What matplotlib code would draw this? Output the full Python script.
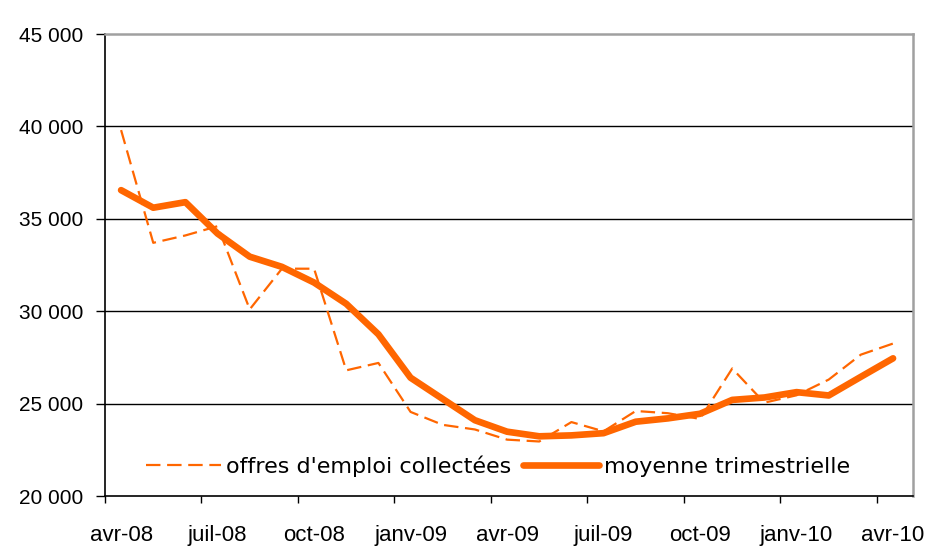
import matplotlib.pyplot as plt
import numpy as np

# === DATA ===
months = ["avr-08", "mai-08", "juin-08", "juil-08", "août-08", "sept-08", "oct-08", "nov-08", "déc-08",
          "janv-09", "févr-09", "mars-09", "avr-09", "mai-09", "juin-09", "juil-09", "août-09", "sept-09",
          "oct-09", "nov-09", "déc-09", "janv-10", "févr-10", "mars-10", "avr-10"]
offres = [39800, 33700, 34100, 34600, 30100, 32300, 32300, 26800, 27200,
          24550, 23850, 23600, 23050, 22950, 24000, 23500, 24600, 24480,
          24170, 26900, 25050, 25450, 26300, 27650, 28250]
moyenne = [36550, 35600, 35900, 34200, 32950, 32400, 31550, 30400, 28750,
           26400, 25250, 24100, 23480, 23230, 23280, 23400, 24020, 24200,
           24450, 25200, 25330, 25620, 25440, 26450, 27450]
tick_labels = ["avr-08", "juil-08", "oct-08", "janv-09", "avr-09", "juil-09", "oct-09", "janv-10", "avr-10"]
yticks = [20000, 25000, 30000, 35000, 40000, 45000]

orange = "#ff6600"
plt.rcParams['font.family'] = ['Liberation Sans', 'DejaVu Sans']

fig = plt.figure(figsize=(9.34, 5.47), dpi=100)
ax = fig.add_axes([105 / 934, 1 - 496 / 547, 808 / 934, 462 / 547])

# categories: points sit in the middle of each month slot
x = np.arange(len(months)) + 0.5
ax.plot(x, offres, color=orange, lw=1.6, dashes=(6.5, 3), label="offres d'emploi collectées")
ax.plot(x, moyenne, color=orange, lw=4.8, solid_joinstyle='round', solid_capstyle='round',
        label="moyenne trimestrielle")

ax.set_xlim(0, 25.12)
ax.set_ylim(20000, 45000)

# tick marks between categories, labels centred on the category
ax.set_xticks(np.arange(0, 25, 3))
ax.set_xticklabels([])
ax.set_xticks(np.arange(0, 25, 3) + 0.5, minor=True)
ax.set_xticklabels(tick_labels, minor=True, fontsize=16)
ax.tick_params(axis='x', which='major', length=5, width=1)
ax.tick_params(axis='x', which='minor', length=0, pad=21)

ax.set_yticks(yticks)
ax.set_yticklabels([f"{v // 1000} 000" for v in yticks], fontsize=15)
ax.tick_params(axis='y', length=6.5, width=1, pad=9)

for v in yticks[1:-1]:
    ax.axhline(v, color='black', lw=1, zorder=0)

for s in ['left', 'bottom']:
    ax.spines[s].set_color('black')
    ax.spines[s].set_linewidth(1.2)
for s in ['top', 'right']:
    ax.spines[s].set_color('#a0a0a0')
    ax.spines[s].set_linewidth(1.8)

leg = ax.legend(loc='center', bbox_to_anchor=(0.486, 0.065), ncol=2, frameon=False,
                prop={'family': 'DejaVu Sans', 'size': 16},
                handlelength=3.4, handletextpad=0.22, columnspacing=0.54, borderpad=0)

# title is cut off at the top of the original image, only descenders show
fig.text(531 / 934, 1.008, "Offres d'emploi par secteur d'activité (France)",
         ha='right', va='baseline', fontsize=15)

plt.savefig("out.png", dpi=100)
